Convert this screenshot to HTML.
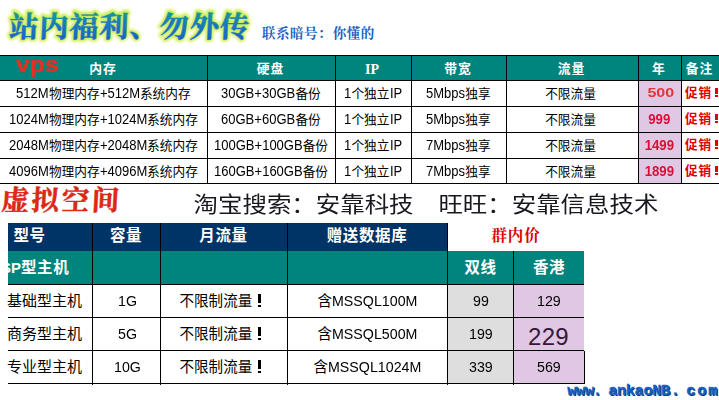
<!DOCTYPE html>
<html lang="zh"><head><meta charset="utf-8"><title>VPS</title><style>
html,body{margin:0;padding:0;background:#fff}
body{width:719px;height:400px;position:relative;overflow:hidden;font-family:"Liberation Sans","Noto Sans CJK SC",sans-serif}
.c,.r{position:absolute}
.c{white-space:nowrap;overflow:visible}
.l{display:inline-block;transform-origin:0 50%}
.h1{font-weight:bold;letter-spacing:1px}
.h2{font-weight:bold;letter-spacing:0.6px}
.b2{font-weight:bold;letter-spacing:0.8px;font-family:"Liberation Serif","Noto Serif CJK SC",serif}
.b3{font-weight:bold;letter-spacing:0.9px}
.s127{font-size:12.7px}
.tb{display:inline-block;font-size:24.45px;transform:scaleY(0.88);transform-origin:0 75%}
.wm{text-shadow:1px 1px 0 #123a6a;font-family:"Liberation Mono",monospace;white-space:pre;font-size:15.3px;line-height:20px;font-weight:bold;color:#1560C0;letter-spacing:-0.38px;-webkit-text-stroke:0.35px #1560C0}
.wm i{font-style:normal;position:relative;left:-1px}
</style></head><body>
<div class="r" style="left:0px;top:56px;width:719px;height:24px;background:#00847E"></div>
<div class="r" style="left:639px;top:81px;width:42px;height:102px;background:#E0C8E4"></div>
<div class="r" style="left:0px;top:55px;width:719px;height:1px;background:#000"></div>
<div class="r" style="left:0px;top:80px;width:719px;height:1px;background:#000"></div>
<div class="r" style="left:0px;top:106px;width:719px;height:1px;background:#000"></div>
<div class="r" style="left:0px;top:132px;width:719px;height:1px;background:#000"></div>
<div class="r" style="left:0px;top:158px;width:719px;height:1px;background:#000"></div>
<div class="r" style="left:0px;top:183px;width:719px;height:1px;background:#000"></div>
<div class="r" style="left:207px;top:55px;width:1px;height:129px;background:#000"></div>
<div class="r" style="left:335px;top:55px;width:1px;height:129px;background:#000"></div>
<div class="r" style="left:411px;top:55px;width:1px;height:129px;background:#000"></div>
<div class="r" style="left:506px;top:55px;width:1px;height:129px;background:#000"></div>
<div class="r" style="left:638px;top:55px;width:1px;height:129px;background:#000"></div>
<div class="r" style="left:681px;top:55px;width:1px;height:129px;background:#000"></div>
<div class="c" style="left:-0.5px;top:56.8px;width:207px;height:24px;line-height:24px;font-size:12.8px;color:#fff;text-align:center;"><span class="h1">内存</span></div>
<div class="c" style="left:206.5px;top:56.8px;width:128px;height:24px;line-height:24px;font-size:12.8px;color:#fff;text-align:center;"><span class="h1">硬盘</span></div>
<div class="c" style="left:334px;top:57.6px;width:76px;height:24px;line-height:24px;font-size:14px;color:#fff;text-align:center;font-family:'Liberation Serif',serif;font-weight:bold;">IP</div>
<div class="c" style="left:410.5px;top:56.8px;width:95px;height:24px;line-height:24px;font-size:12.8px;color:#fff;text-align:center;"><span class="h1">带宽</span></div>
<div class="c" style="left:505.5px;top:56.8px;width:132px;height:24px;line-height:24px;font-size:12.8px;color:#fff;text-align:center;"><span class="h1">流量</span></div>
<div class="c" style="left:637.5px;top:56.8px;width:43px;height:24px;line-height:24px;font-size:12.8px;color:#fff;text-align:center;"><span class="h1">年</span></div>
<div class="c" style="left:680.5px;top:56.8px;width:38px;height:24px;line-height:24px;font-size:12.8px;color:#fff;text-align:center;"><span class="h1">备注</span></div>
<div class="c" style="left:16px;top:52px;font-size:22.5px;line-height:26px;font-weight:bold;color:#E43020;-webkit-text-stroke:0.4px #E43020;transform:scaleX(1.1);transform-origin:0 0">vps</div>
<div class="c" style="left:0px;top:80.5px;width:207px;height:25px;line-height:25px;font-size:14px;color:#000;text-align:center;"><span class="l" style="transform:scaleX(0.93);margin-right:-2.45px">512M</span><span class="s127">物理内存</span><span class="l" style="transform:scaleX(0.93);margin-right:-3.02px">+512M</span><span class="s127">系统内存</span></div>
<div class="c" style="left:207px;top:80.5px;width:128px;height:25px;line-height:25px;font-size:14px;color:#000;text-align:center;"><span class="l" style="transform:scaleX(0.93);margin-right:-5.58px">30GB+30GB</span><span class="s127">备份</span></div>
<div class="c" style="left:335px;top:80.5px;width:76px;height:25px;line-height:25px;font-size:14px;color:#000;text-align:center;"><span class="l" style="transform:scaleX(0.93);margin-right:-0.55px">1</span><span class="s127">个独立</span><span class="l" style="transform:scaleX(0.93);margin-right:-0.93px">IP</span></div>
<div class="c" style="left:411px;top:80.5px;width:95px;height:25px;line-height:25px;font-size:14px;color:#000;text-align:center;"><span class="l" style="transform:scaleX(0.93);margin-right:-2.94px">5Mbps</span><span class="s127">独享</span></div>
<div class="c" style="left:504.5px;top:80.5px;width:132px;height:25px;line-height:25px;font-size:14px;color:#000;text-align:center;"><span class="s127">不限流量</span></div>
<div class="c" style="left:640.3px;top:80px;width:41px;height:25px;line-height:25px;font-size:13px;color:#E03838;text-align:center;font-weight:bold;"><span style="display:inline-block;transform:scaleX(1.24)">500</span></div>
<div class="c" style="left:685px;top:81.2px;width:40px;height:25px;line-height:25px;font-size:12.6px;color:#E00000;text-align:left;"><span class="b3">促销</span></div>
<div class="r" style="left:715.2px;top:87.6px;width:3px;height:6px;background:#E00000"></div>
<div class="r" style="left:715.2px;top:94.8px;width:3px;height:2.3px;background:#E00000"></div>
<div class="c" style="left:0px;top:106.5px;width:207px;height:25px;line-height:25px;font-size:14px;color:#000;text-align:center;"><span class="l" style="transform:scaleX(0.93);margin-right:-3.00px">1024M</span><span class="s127">物理内存</span><span class="l" style="transform:scaleX(0.93);margin-right:-3.57px">+1024M</span><span class="s127">系统内存</span></div>
<div class="c" style="left:207px;top:106.5px;width:128px;height:25px;line-height:25px;font-size:14px;color:#000;text-align:center;"><span class="l" style="transform:scaleX(0.93);margin-right:-5.58px">60GB+60GB</span><span class="s127">备份</span></div>
<div class="c" style="left:335px;top:106.5px;width:76px;height:25px;line-height:25px;font-size:14px;color:#000;text-align:center;"><span class="l" style="transform:scaleX(0.93);margin-right:-0.55px">1</span><span class="s127">个独立</span><span class="l" style="transform:scaleX(0.93);margin-right:-0.93px">IP</span></div>
<div class="c" style="left:411px;top:106.5px;width:95px;height:25px;line-height:25px;font-size:14px;color:#000;text-align:center;"><span class="l" style="transform:scaleX(0.93);margin-right:-2.94px">5Mbps</span><span class="s127">独享</span></div>
<div class="c" style="left:504.5px;top:106.5px;width:132px;height:25px;line-height:25px;font-size:14px;color:#000;text-align:center;"><span class="s127">不限流量</span></div>
<div class="c" style="left:639px;top:107px;width:41px;height:25px;line-height:25px;font-size:14.7px;color:#D81038;text-align:center;font-weight:bold;"><span style="display:inline-block;transform:scaleX(0.9)">999</span></div>
<div class="c" style="left:685px;top:107.2px;width:40px;height:25px;line-height:25px;font-size:12.6px;color:#E00000;text-align:left;"><span class="b3">促销</span></div>
<div class="r" style="left:715.2px;top:113.6px;width:3px;height:6px;background:#E00000"></div>
<div class="r" style="left:715.2px;top:120.8px;width:3px;height:2.3px;background:#E00000"></div>
<div class="c" style="left:0px;top:132.5px;width:207px;height:25px;line-height:25px;font-size:14px;color:#000;text-align:center;"><span class="l" style="transform:scaleX(0.93);margin-right:-3.00px">2048M</span><span class="s127">物理内存</span><span class="l" style="transform:scaleX(0.93);margin-right:-3.57px">+2048M</span><span class="s127">系统内存</span></div>
<div class="c" style="left:207px;top:132.5px;width:128px;height:25px;line-height:25px;font-size:14px;color:#000;text-align:center;"><span class="l" style="transform:scaleX(0.93);margin-right:-6.67px">100GB+100GB</span><span class="s127">备份</span></div>
<div class="c" style="left:335px;top:132.5px;width:76px;height:25px;line-height:25px;font-size:14px;color:#000;text-align:center;"><span class="l" style="transform:scaleX(0.93);margin-right:-0.55px">1</span><span class="s127">个独立</span><span class="l" style="transform:scaleX(0.93);margin-right:-0.93px">IP</span></div>
<div class="c" style="left:411px;top:132.5px;width:95px;height:25px;line-height:25px;font-size:14px;color:#000;text-align:center;"><span class="l" style="transform:scaleX(0.93);margin-right:-2.94px">7Mbps</span><span class="s127">独享</span></div>
<div class="c" style="left:504.5px;top:132.5px;width:132px;height:25px;line-height:25px;font-size:14px;color:#000;text-align:center;"><span class="s127">不限流量</span></div>
<div class="c" style="left:639px;top:133px;width:41px;height:25px;line-height:25px;font-size:14.7px;color:#D81038;text-align:center;font-weight:bold;"><span style="display:inline-block;transform:scaleX(0.9)">1499</span></div>
<div class="c" style="left:685px;top:133.2px;width:40px;height:25px;line-height:25px;font-size:12.6px;color:#E00000;text-align:left;"><span class="b3">促销</span></div>
<div class="r" style="left:715.2px;top:139.6px;width:3px;height:6px;background:#E00000"></div>
<div class="r" style="left:715.2px;top:146.8px;width:3px;height:2.3px;background:#E00000"></div>
<div class="c" style="left:0px;top:158.5px;width:207px;height:24px;line-height:24px;font-size:14px;color:#000;text-align:center;"><span class="l" style="transform:scaleX(0.93);margin-right:-3.00px">4096M</span><span class="s127">物理内存</span><span class="l" style="transform:scaleX(0.93);margin-right:-3.57px">+4096M</span><span class="s127">系统内存</span></div>
<div class="c" style="left:207px;top:158.5px;width:128px;height:24px;line-height:24px;font-size:14px;color:#000;text-align:center;"><span class="l" style="transform:scaleX(0.93);margin-right:-6.67px">160GB+160GB</span><span class="s127">备份</span></div>
<div class="c" style="left:335px;top:158.5px;width:76px;height:24px;line-height:24px;font-size:14px;color:#000;text-align:center;"><span class="l" style="transform:scaleX(0.93);margin-right:-0.55px">1</span><span class="s127">个独立</span><span class="l" style="transform:scaleX(0.93);margin-right:-0.93px">IP</span></div>
<div class="c" style="left:411px;top:158.5px;width:95px;height:24px;line-height:24px;font-size:14px;color:#000;text-align:center;"><span class="l" style="transform:scaleX(0.93);margin-right:-2.94px">7Mbps</span><span class="s127">独享</span></div>
<div class="c" style="left:504.5px;top:158.5px;width:132px;height:24px;line-height:24px;font-size:14px;color:#000;text-align:center;"><span class="s127">不限流量</span></div>
<div class="c" style="left:639px;top:159px;width:41px;height:24px;line-height:24px;font-size:14.7px;color:#D81038;text-align:center;font-weight:bold;"><span style="display:inline-block;transform:scaleX(0.9)">1899</span></div>
<div class="c" style="left:685px;top:159.2px;width:40px;height:24px;line-height:24px;font-size:12.6px;color:#E00000;text-align:left;"><span class="b3">促销</span></div>
<div class="r" style="left:715.2px;top:165.6px;width:3px;height:6px;background:#E00000"></div>
<div class="r" style="left:715.2px;top:172.8px;width:3px;height:2.3px;background:#E00000"></div>
<div class="c" style="left:193.6px;top:190.5px;width:250px;height:26px;line-height:26px;font-size:24px;color:#181820;text-align:left;"><span class="tb">淘宝搜索：安靠科技</span></div>
<div class="c" style="left:438.4px;top:190.5px;width:250px;height:26px;line-height:26px;font-size:24px;color:#181820;text-align:left;"><span class="tb">旺旺：安靠信息技术</span></div>
<div class="r" style="left:8px;top:223px;width:440px;height:28px;background:#003366"></div>
<div class="r" style="left:8px;top:251px;width:576px;height:33px;background:#00847E"></div>
<div class="r" style="left:448px;top:285px;width:65px;height:98px;background:#DEDEDE"></div>
<div class="r" style="left:514px;top:285px;width:70px;height:98px;background:#E0C8E4"></div>
<div class="r" style="left:8px;top:284px;width:576px;height:1px;background:#000"></div>
<div class="r" style="left:8px;top:317px;width:576px;height:1px;background:#000"></div>
<div class="r" style="left:8px;top:350px;width:576px;height:1px;background:#000"></div>
<div class="r" style="left:8px;top:383px;width:576px;height:1px;background:#000"></div>
<div class="r" style="left:92px;top:223px;width:1px;height:162px;background:#000"></div>
<div class="r" style="left:160px;top:223px;width:1px;height:162px;background:#000"></div>
<div class="r" style="left:287px;top:223px;width:1px;height:162px;background:#000"></div>
<div class="r" style="left:447px;top:223px;width:1px;height:162px;background:#000"></div>
<div class="r" style="left:513px;top:251px;width:1px;height:134px;background:#000"></div>
<div class="r" style="left:584px;top:351px;width:1px;height:33px;background:#000"></div>
<div class="c" style="left:7.5px;top:222.2px;width:44px;height:28px;line-height:28px;font-size:15.5px;color:#fff;text-align:center;"><span class="h2">型号</span></div>
<div class="c" style="left:92px;top:222.2px;width:68px;height:28px;line-height:28px;font-size:15.5px;color:#fff;text-align:center;"><span class="h2">容量</span></div>
<div class="c" style="left:160px;top:222.2px;width:127px;height:28px;line-height:28px;font-size:15.5px;color:#fff;text-align:center;"><span class="h2">月流量</span></div>
<div class="c" style="left:287px;top:222.2px;width:160px;height:28px;line-height:28px;font-size:15.5px;color:#fff;text-align:center;"><span class="h2">赠送数据库</span></div>
<div class="c" style="left:469px;top:221.5px;width:94px;height:28px;line-height:28px;font-size:15.5px;color:#D80000;text-align:center;"><span class="b2">群内价</span></div>
<div class="c" style="left:8px;top:251px;width:85px;height:33px;overflow:hidden"><div class="c" style="left:-7px;top:0;line-height:33px;font-size:15px;color:#fff"><b>SP</b><span class="h2" style="font-size:15.5px">型主机</span></div></div>
<div class="c" style="left:448px;top:250.5px;width:65px;height:33px;line-height:33px;font-size:15.5px;color:#fff;text-align:center;"><span class="h2">双线</span></div>
<div class="c" style="left:514px;top:250.5px;width:70px;height:33px;line-height:33px;font-size:15.5px;color:#fff;text-align:center;"><span class="h2">香港</span></div>
<div class="c" style="left:7px;top:284.5px;width:85px;height:32px;line-height:32px;font-size:15px;color:#000;text-align:left;">基础型主机</div>
<div class="c" style="left:94px;top:284.5px;width:66px;height:32px;line-height:32px;font-size:15.3px;color:#000;text-align:center;"><span class="l" style="transform:scaleX(0.93);margin-right:-1.43px">1G</span></div>
<div class="c" style="left:179.5px;top:284.5px;width:108px;height:32px;line-height:32px;font-size:14.5px;color:#000;text-align:left;"><span style="font-size:14.55px">不限制流量</span></div>
<div class="r" style="left:257.8px;top:294.2px;width:3px;height:9px;background:#000"></div>
<div class="r" style="left:257.8px;top:304.6px;width:3px;height:2.4px;background:#000"></div>
<div class="c" style="left:288px;top:284.5px;width:159px;height:32px;line-height:32px;font-size:15.3px;color:#000;text-align:center;"><span style="font-size:14.5px">含</span><span class="l" style="transform:scaleX(0.93);margin-right:-6.43px">MSSQL100M</span></div>
<div class="c" style="left:448px;top:284.5px;width:65px;height:32px;line-height:32px;font-size:15.3px;color:#000;text-align:center;"><span class="l" style="transform:scaleX(0.93);margin-right:-1.19px">99</span></div>
<div class="c" style="left:514px;top:284.5px;width:70px;height:32px;line-height:32px;font-size:15.3px;color:#000;text-align:center;"><span class="l" style="transform:scaleX(0.93);margin-right:-1.79px">129</span></div>
<div class="c" style="left:7px;top:317.5px;width:85px;height:32px;line-height:32px;font-size:15px;color:#000;text-align:left;">商务型主机</div>
<div class="c" style="left:94px;top:317.5px;width:66px;height:32px;line-height:32px;font-size:15.3px;color:#000;text-align:center;"><span class="l" style="transform:scaleX(0.93);margin-right:-1.43px">5G</span></div>
<div class="c" style="left:179.5px;top:317.5px;width:108px;height:32px;line-height:32px;font-size:14.5px;color:#000;text-align:left;"><span style="font-size:14.55px">不限制流量</span></div>
<div class="r" style="left:257.8px;top:327.2px;width:3px;height:9px;background:#000"></div>
<div class="r" style="left:257.8px;top:337.6px;width:3px;height:2.4px;background:#000"></div>
<div class="c" style="left:288px;top:317.5px;width:159px;height:32px;line-height:32px;font-size:15.3px;color:#000;text-align:center;"><span style="font-size:14.5px">含</span><span class="l" style="transform:scaleX(0.93);margin-right:-6.43px">MSSQL500M</span></div>
<div class="c" style="left:448px;top:317.5px;width:65px;height:32px;line-height:32px;font-size:15.3px;color:#000;text-align:center;"><span class="l" style="transform:scaleX(0.93);margin-right:-1.79px">199</span></div>
<div class="c" style="left:513.5px;top:321.1px;width:70px;height:32px;line-height:32px;font-size:24px;color:#381838;text-align:center;letter-spacing:0.3px;">229</div>
<div class="c" style="left:7px;top:350.5px;width:85px;height:32px;line-height:32px;font-size:15px;color:#000;text-align:left;">专业型主机</div>
<div class="c" style="left:94px;top:350.5px;width:66px;height:32px;line-height:32px;font-size:15.3px;color:#000;text-align:center;"><span class="l" style="transform:scaleX(0.93);margin-right:-2.02px">10G</span></div>
<div class="c" style="left:179.5px;top:350.5px;width:108px;height:32px;line-height:32px;font-size:14.5px;color:#000;text-align:left;"><span style="font-size:14.55px">不限制流量</span></div>
<div class="r" style="left:257.8px;top:360.2px;width:3px;height:9px;background:#000"></div>
<div class="r" style="left:257.8px;top:370.6px;width:3px;height:2.4px;background:#000"></div>
<div class="c" style="left:288px;top:350.5px;width:159px;height:32px;line-height:32px;font-size:15.3px;color:#000;text-align:center;"><span style="font-size:14.5px">含</span><span class="l" style="transform:scaleX(0.93);margin-right:-7.02px">MSSQL1024M</span></div>
<div class="c" style="left:448px;top:350.5px;width:65px;height:32px;line-height:32px;font-size:15.3px;color:#000;text-align:center;"><span class="l" style="transform:scaleX(0.93);margin-right:-1.79px">339</span></div>
<div class="c" style="left:514px;top:350.5px;width:70px;height:32px;line-height:32px;font-size:15.3px;color:#000;text-align:center;"><span class="l" style="transform:scaleX(0.93);margin-right:-1.79px">569</span></div>
<div class="c wm" style="left:567.3px;top:380.5px">www<i>.</i></div>
<div class="c wm" style="left:608.2px;top:380.5px">ankaoNB<i style="left:1px">.</i></div>
<div class="c wm" style="left:686.2px;top:380.5px"><span style="letter-spacing:1.9px">com</span></div>
<svg class="r" style="left:0;top:0" width="400" height="55" viewBox="0 0 400 55"><defs><linearGradient id="tg" gradientUnits="userSpaceOnUse" x1="0" y1="12.8" x2="0" y2="39.5"><stop offset="0" stop-color="#189890"/><stop offset="0.35" stop-color="#187CBC"/><stop offset="1" stop-color="#1862CC"/></linearGradient><filter id="gl" x="-5%" y="-20%" width="110%" height="140%"><feGaussianBlur stdDeviation="0.9"/></filter><filter id="gl2" x="-5%" y="-20%" width="110%" height="140%"><feGaussianBlur stdDeviation="1.6"/></filter></defs><g font-family="'Liberation Serif','Noto Serif CJK SC',serif" font-weight="bold" font-size="29" transform="translate(1.6,0) skewX(-2.5)"><g filter="url(#gl2)" fill="#F2F9A8" stroke="#F2F9A8" stroke-width="5.8" stroke-linejoin="round"><text x="8.8 38.9 69 99.1 129.2 159.3 189.4 219.5" y="36.6">站内福利、勿外传</text></g><g filter="url(#gl)" fill="#C6EC5C" stroke="#C6EC5C" stroke-width="3.3" stroke-linejoin="round"><text x="8.8 38.9 69 99.1 129.2 159.3 189.4 219.5" y="36.6">站内福利、勿外传</text></g><g fill="url(#tg)" stroke="url(#tg)" stroke-width="0.5" stroke-linejoin="round"><text x="8.8 38.9 69 99.1 129.2 159.3 189.4 219.5" y="36.6">站内福利、勿外传</text></g></g><text x="262 276 290 304 318 332.8 346.8 360.8" y="38" font-family="'Liberation Serif','Noto Serif CJK SC',serif" font-weight="bold" font-size="13.5" fill="#2060C0">联系暗号：你懂的</text></svg><svg class="r" style="left:0;top:184px" width="130" height="38" viewBox="0 184 130 38"><g transform="translate(11,0) skewX(-3)"><text x="1 31.1 61.2 91.3" y="210.2" font-family="'Liberation Serif','Noto Serif CJK SC',serif" font-weight="bold" font-size="27.6" fill="#DC2814" stroke="#DC2814" stroke-width="0.5" stroke-linejoin="round">虚拟空间</text></g></svg>
</body></html>
